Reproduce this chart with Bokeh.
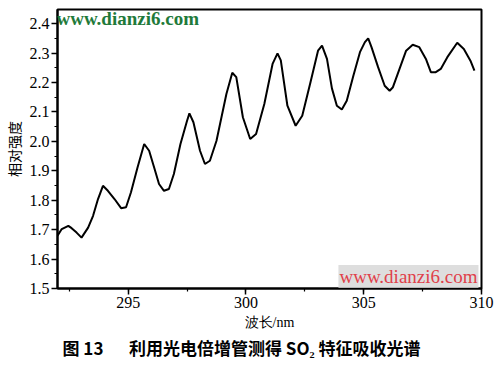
from bokeh.plotting import figure
from bokeh.models import Range1d, SingleIntervalTicker, PrintfTickFormatter, Label, Title
from bokeh.embed import file_html
from bokeh.resources import INLINE

# wavelength (nm) and relative intensity
wavelength_nm = [
    292.00, 292.18, 292.46, 292.60, 292.81, 293.02, 293.30, 293.51, 293.72, 293.93,
    294.14, 294.42, 294.70, 294.91, 295.12, 295.40, 295.68, 295.89, 296.10, 296.31,
    296.52, 296.73, 296.94, 297.22, 297.50, 297.60, 297.77, 298.05, 298.26, 298.47,
    298.75, 299.17, 299.42, 299.59, 299.87, 300.18, 300.43, 300.78, 301.13, 301.34,
    301.48, 301.76, 302.11, 302.39, 302.74, 303.06, 303.23, 303.44, 303.65, 303.86,
    304.07, 304.28, 304.56, 304.84, 305.05, 305.19, 305.33, 305.61, 305.89, 306.10,
    306.24, 306.52, 306.80, 307.08, 307.36, 307.64, 307.85, 308.06, 308.27, 308.55,
    308.97, 309.25, 309.53, 309.70,
]
intensity = [
    1.679, 1.702, 1.713, 1.705, 1.690, 1.673, 1.707, 1.747, 1.804, 1.849,
    1.832, 1.804, 1.773, 1.776, 1.827, 1.912, 1.991, 1.968, 1.912, 1.855,
    1.832, 1.838, 1.889, 1.991, 2.070, 2.095, 2.065, 1.968, 1.923, 1.934,
    2.002, 2.161, 2.233, 2.218, 2.082, 2.008, 2.025, 2.127, 2.263, 2.299,
    2.275, 2.121, 2.053, 2.087, 2.201, 2.308, 2.325, 2.280, 2.180, 2.121,
    2.108, 2.138, 2.223, 2.303, 2.337, 2.350, 2.320, 2.252, 2.189, 2.172,
    2.184, 2.246, 2.308, 2.328, 2.320, 2.280, 2.235, 2.235, 2.246, 2.286,
    2.335, 2.314, 2.274, 2.240,
]

x_range = (292.0, 310.0)
y_range = (1.5, 2.448)
x_label = "波长/nm"
y_label = "相对强度"
caption = "图\u00a013\u2003\u2002利用光电倍增管测得\u00a0SO₂\u00a0特征吸收光谱"
watermark = "www.dianzi6.com"

CJK = "Noto Sans CJK SC"
SERIF = "Liberation Serif"

p = figure(width=500, height=367, output_backend="svg", toolbar_location=None,
           x_range=Range1d(*x_range), y_range=Range1d(*y_range),
           min_border_left=53, min_border_right=19, min_border_top=9, min_border_bottom=79)
p.background_fill_color = "white"
p.border_fill_color = "white"
p.grid.visible = False
p.outline_line_color = "black"
p.outline_line_width = 2

p.line(wavelength_nm, intensity, line_color="black", line_width=2)

p.xaxis.ticker = SingleIntervalTicker(interval=5, num_minor_ticks=2)
p.yaxis.ticker = SingleIntervalTicker(interval=0.1, num_minor_ticks=2)
p.yaxis.formatter = PrintfTickFormatter(format="%.1f")

for ax in (p.xaxis[0], p.yaxis[0]):
    ax.axis_line_color = "black"
    ax.axis_line_width = 2
    ax.major_tick_line_color = "black"
    ax.major_tick_line_width = 1.5
    ax.minor_tick_line_color = "black"
    ax.minor_tick_line_width = 1.2
    ax.major_tick_in = 0
    ax.major_tick_out = 6
    ax.minor_tick_in = 0
    ax.minor_tick_out = 3
    ax.major_label_text_font = SERIF
    ax.major_label_text_font_style = "normal"
    ax.major_label_text_font_size = "16px"
    ax.major_label_text_color = "black"
    ax.major_label_standoff = 2
    ax.axis_label_text_font = CJK
    ax.axis_label_text_font_size = "14px"
    ax.axis_label_text_font_style = "normal"
    ax.axis_label_text_color = "black"

p.xaxis.axis_label = x_label
p.xaxis.axis_label_text_font = SERIF
p.xaxis.axis_label_standoff = 4
p.yaxis.axis_label = y_label
p.yaxis.axis_label_standoff = 3

p.add_layout(Title(text=caption, align="left", offset=5,
                   text_font=CJK, text_font_size="17px", text_font_style="bold",
                   text_color="black", standoff=0), "below")

# watermarks (kept inside the plot area so they are not clipped)
p.add_layout(Label(x=56, y=18, x_units="canvas", y_units="canvas", text=watermark,
                   text_align="left", text_baseline="middle",
                   text_font=SERIF, text_font_size="19px", text_font_style="bold",
                   text_color="#1f7a3a"))
p.add_layout(Label(x=478, y=276, x_units="canvas", y_units="canvas", text=watermark,
                   text_align="right", text_baseline="middle",
                   text_font=SERIF, text_font_size="19px", text_color="#e0404a",
                   background_fill_color="#d6d6d6", background_fill_alpha=0.8, padding=1))

open("out.html", "w").write(file_html(p, INLINE))
